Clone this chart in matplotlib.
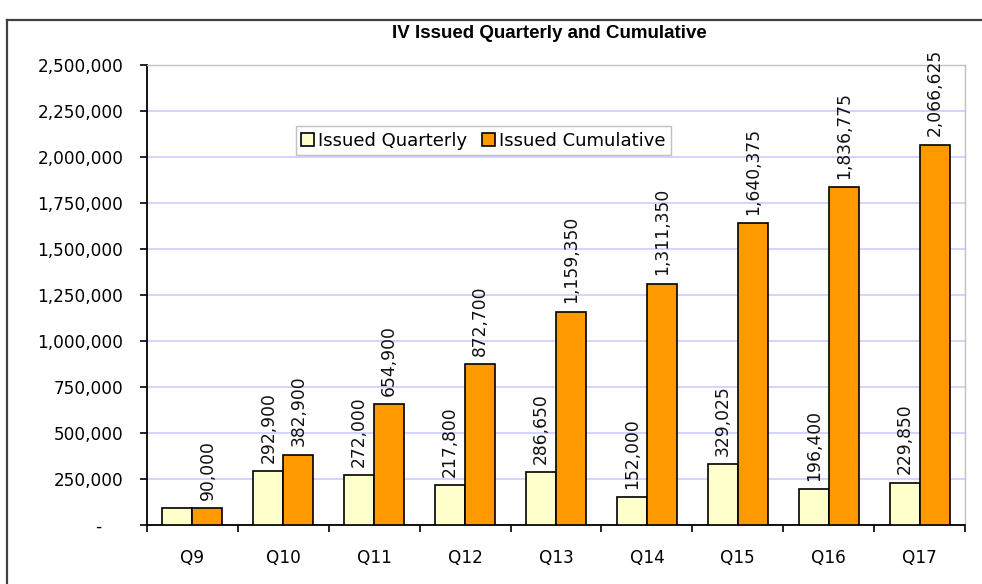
import matplotlib
matplotlib.use("Agg")
import matplotlib.pyplot as plt
from matplotlib.lines import Line2D
from matplotlib.ticker import FuncFormatter, FixedLocator
import numpy as np

categories = ["Q9", "Q10", "Q11", "Q12", "Q13", "Q14", "Q15", "Q16", "Q17"]
issued_quarterly = [90000, 292900, 272000, 217800, 286650, 152000, 329025, 196400, 229850]
issued_cumulative = [90000, 382900, 654900, 872700, 1159350, 1311350, 1640375, 1836775, 2066625]
quarterly_labels = ["", "292,900", "272,000", "217,800", "286,650", "152,000", "329,025", "196,400", "229,850"]
cumulative_labels = ["90,000", "382,900", "654,900", "872,700", "1,159,350", "1,311,350",
                     "1,640,375", "1,836,775", "2,066,625"]
title = "IV Issued Quarterly and Cumulative"

plt.rcParams['font.family'] = ['DejaVu Sans']

W, H = 982, 584
fig = plt.figure(figsize=(W / 100, H / 100), dpi=100)
fig.patch.set_facecolor("white")

# outer frame
fig.add_artist(Line2D([7 / W, 1.0], [1 - 20 / H, 1 - 20 / H], color="#404040", lw=1.6))
fig.add_artist(Line2D([7 / W, 7 / W], [0, 1 - 20 / H], color="#404040", lw=1.6))

left, right, top, bottom = 147, 965, 65, 525
ax = fig.add_axes([left / W, 1 - bottom / H, (right - left) / W, (bottom - top) / H])

x = np.arange(len(categories))
bw = 0.33
b1 = ax.bar(x - bw / 2, issued_quarterly, bw, color="#FFFFCC", edgecolor="black", linewidth=1.2,
            label="Issued Quarterly", zorder=3)
b2 = ax.bar(x + bw / 2, issued_cumulative, bw, color="#FF9900", edgecolor="black", linewidth=1.2,
            label="Issued Cumulative", zorder=3)
ax.bar_label(b1, labels=quarterly_labels, rotation=90, padding=6, fontsize=12.3, color="#111111")
ax.bar_label(b2, labels=cumulative_labels, rotation=90, padding=6, fontsize=12.3, color="#111111")

ax.set_xlim(-0.5, len(categories) - 0.5)
ax.set_ylim(0, 2500000)
ax.set_yticks(np.arange(0, 2500001, 250000))
ax.yaxis.set_major_formatter(FuncFormatter(lambda v, p: "-    " if v == 0 else f"{int(v):,}"))
ax.tick_params(axis="y", direction="out", length=5, width=1.2, pad=12, labelsize=12.2, colors="black")
ax.set_xticks(x)
ax.set_xticklabels(categories)
ax.xaxis.set_minor_locator(FixedLocator(np.arange(-0.5, len(categories), 1.0)))
ax.tick_params(axis="x", which="major", length=0, pad=17, labelsize=12.2)
ax.tick_params(axis="x", which="minor", direction="out", length=5, width=1.2)

ax.grid(axis="y", color="#ccccff", linewidth=1.2, zorder=0)
ax.set_axisbelow(True)
for s in ["top", "right"]:
    ax.spines[s].set_color("#c0c0c0")
    ax.spines[s].set_linewidth(1.0)
for s in ["left", "bottom"]:
    ax.spines[s].set_color("black")
    ax.spines[s].set_linewidth(1.3)

leg = ax.legend(loc="upper left", bbox_to_anchor=(0.182, 0.867), ncol=2, fontsize=13,
                frameon=True, fancybox=False, edgecolor="#c0c0c0", framealpha=1,
                handlelength=0.7, handleheight=0.7, handletextpad=0.25, columnspacing=0.8,
                borderpad=0.3, borderaxespad=0)
leg.get_frame().set_linewidth(1.0)

fig.text(549 / W, 1 - 33 / H, title, ha="center", va="center",
         fontsize=13.5, fontweight="bold", family=["Liberation Sans", "DejaVu Sans"])

fig.savefig("out.png", dpi=100)
